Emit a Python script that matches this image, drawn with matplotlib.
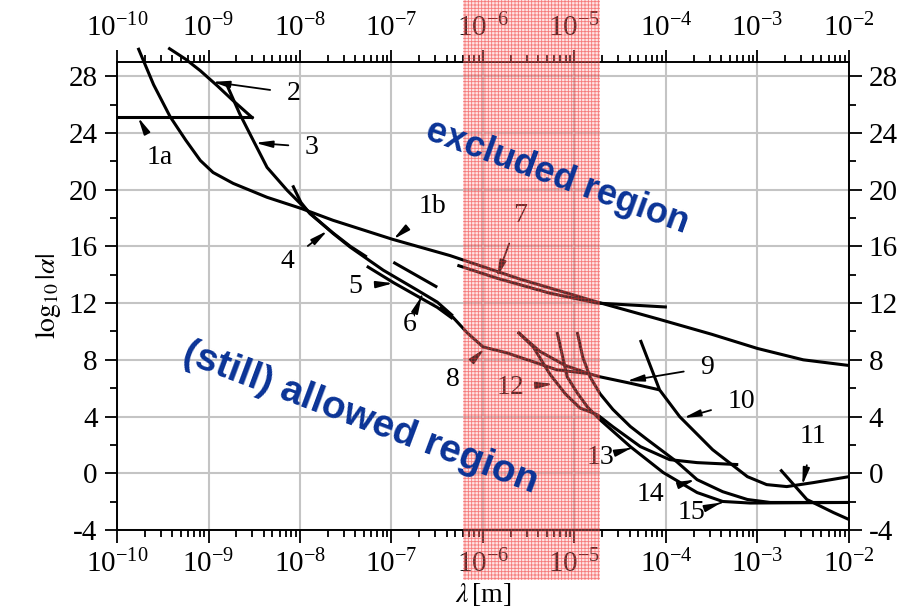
import matplotlib
matplotlib.use("Agg")
import matplotlib.pyplot as plt
import numpy as np
from matplotlib.patches import Rectangle
from matplotlib.transforms import blended_transform_factory
from matplotlib.ticker import MultipleLocator, FixedLocator

plt.rcParams['font.family'] = ['Liberation Serif', 'DejaVu Serif']
plt.rcParams['mathtext.fontset'] = 'stix'
plt.rcParams['axes.unicode_minus'] = False
plt.rcParams['hatch.linewidth'] = 0.6

# constraint curves: log10(lambda [m]) and log10|alpha|
c1a_x = [-10.0, -8.51]
c1a_y = [25.15, 25.15]
c1b_x = [-9.77, -9.60, -9.42, -9.25, -9.09, -8.95, -8.73, -8.36, -7.99, -7.64,
         -6.99, -6.36, -5.60, -4.75, -4.07, -3.50, -3.00, -2.50, -2.00]
c1b_y = [30.0, 27.4, 25.15, 23.5, 22.06, 21.21, 20.44, 19.46, 18.68, 17.84,
         16.5, 15.35, 13.7, 12.07, 10.85, 9.8, 8.8, 8.0, 7.6]
c2_x = [-9.44, -9.25, -9.09, -8.90, -8.73, -8.51]
c2_y = [30.0, 29.2, 28.39, 27.3, 26.27, 25.01]
c3_x = [-8.80, -8.66, -8.51, -8.36, -8.14, -7.89, -7.64, -7.45, -7.09, -6.72, -6.50, -6.33]
c3_y = [27.4, 25.36, 23.46, 21.57, 19.95, 18.33, 16.92, 15.94, 14.32, 12.92, 12.07, 11.1]
c4_x = [-8.08, -7.99, -7.89, -7.64, -7.45, -7.27]
c4_y = [20.3, 19.1, 18.3, 16.95, 16.0, 15.25]
c5_x = [-7.27, -6.98, -6.72, -6.50, -6.33]
c5_y = [14.6, 13.45, 12.5, 11.7, 10.9]
c6_x = [-6.98, -6.50]
c6_y = [14.88, 13.12]
c7_x = [-6.28, -5.85, -5.27, -4.75, -3.99]
c7_y = [14.67, 13.76, 12.7, 12.0, 11.72]
c8_x = [-6.47, -6.33, -6.17, -6.00, -5.74, -5.45, -5.19, -4.94, -4.83]
c8_y = [11.72, 11.01, 9.89, 8.91, 8.49, 7.86, 7.29, 7.1, 7.0]
c9_x = [-4.83, -4.72, -4.39, -4.07]
c9_y = [7.0, 6.8, 6.35, 5.88]
c10_x = [-4.28, -4.07, -3.85, -3.49, -3.11, -2.90, -2.68, -2.39, -2.00]
c10_y = [9.40, 5.88, 3.99, 1.66, -0.24, -0.80, -0.94, -0.66, -0.24]
c11_x = [-2.75, -2.46, -2.17, -2.00]
c11_y = [0.26, -1.85, -2.77, -3.26]
c12_x = [-5.62, -5.45, -5.27, -5.10, -4.94, -4.75]
c12_y = [9.96, 8.9, 7.0, 5.6, 4.6, 4.13]
c12b_x = [-5.62, -5.38, -5.10, -4.83]
c12b_y = [9.96, 8.6, 7.6, 7.0]
c13_x = [-4.75, -4.58, -4.28, -3.96, -3.66, -3.21]
c13_y = [4.13, 3.28, 1.88, 0.96, 0.75, 0.61]
c14_x = [-4.97, -4.91, -4.83, -4.72, -4.58, -4.39, -4.21, -3.88, -3.66, -3.38, -3.11, -2.86, -2.60, -2.00]
c14_y = [9.96, 8.2, 6.8, 5.6, 4.5, 3.3, 2.4, 0.8, -0.45, -1.3, -1.85, -2.06, -2.06, -2.06]
c15_x = [-5.19, -5.08, -4.97, -4.86, -4.72, -4.39, -4.03, -3.66, -3.38, -3.08, -2.00]
c15_y = [9.96, 6.8, 5.67, 4.69, 3.77, 1.88, 0.05, -1.36, -1.99, -2.10, -2.06]

curves = [(c1a_x, c1a_y), (c1b_x, c1b_y), (c2_x, c2_y), (c3_x, c3_y), (c4_x, c4_y),
          (c5_x, c5_y), (c6_x, c6_y), (c7_x, c7_y), (c8_x, c8_y), (c9_x, c9_y),
          (c10_x, c10_y), (c11_x, c11_y), (c12_x, c12_y), (c12b_x, c12b_y),
          (c13_x, c13_y), (c14_x, c14_y), (c15_x, c15_y)]

# curve labels: text, text position, arrow tip (log10 lambda, log10 alpha)
labels = ['1a', '1b', '2', '3', '4', '5', '6', '7', '8', '9', '10', '11', '12', '13', '14', '15']
label_xy = [(-9.53, 22.3), (-6.55, 18.8), (-8.07, 26.8), (-7.87, 23.0), (-8.14, 14.9),
            (-7.40, 13.2), (-6.80, 10.5), (-5.60, 18.2), (-6.33, 6.6), (-3.55, 7.45),
            (-3.18, 5.05), (-2.39, 2.6), (-5.70, 6.05), (-4.72, 1.1), (-4.17, -1.5),
            (-3.72, -2.8)]
label_tip = [(-9.77, 25.1), (-6.98, 16.5), (-8.96, 27.6), (-8.49, 23.3), (-7.70, 17.1),
             (-6.98, 13.4), (-6.67, 12.5), (-5.85, 13.8), (-5.98, 8.8), (-4.43, 6.5),
             (-3.81, 3.9), (-2.51, -0.85), (-5.23, 6.3), (-4.37, 1.8), (-3.68, -0.45),
             (-3.39, -2.06)]

decades = np.arange(-10, -1)
band = (10 ** -6.22, 10 ** -4.72)

fig = plt.figure(figsize=(8.98, 6.11), dpi=100)
ax = fig.add_axes([0.1303, 0.1326, 0.8151, 0.7659])

for xs, ys in curves:
    ax.plot(10.0 ** np.array(xs), ys, color='black', lw=2.2, solid_capstyle='butt',
            zorder=3, clip_on=False)

for lab, (tx, ty), (px, py) in zip(labels, label_xy, label_tip):
    ax.annotate(lab, xy=(10 ** px, py), xytext=(10 ** tx, ty),
                ha='center', va='center', fontsize=20, zorder=4,
                arrowprops=dict(arrowstyle='-|>,head_length=0.5,head_width=0.1',
                                color='black', lw=1.3, shrinkA=10, shrinkB=0))

ax.set_xscale('log')
ax.set_xlim(1e-10, 1e-2)
ax.set_ylim(-4, 29)
ax.xaxis.set_major_locator(FixedLocator(10.0 ** decades))
minor = [m * 10.0 ** d for d in decades[:-1] for m in range(2, 10)]
ax.xaxis.set_minor_locator(FixedLocator(minor))
ax.yaxis.set_major_locator(MultipleLocator(4))
ax.yaxis.set_minor_locator(MultipleLocator(2))
ax.grid(True, which='major', color='#c4c4c4', lw=1.5, zorder=0)
ax.set_axisbelow(True)
ax.tick_params(which='both', direction='out', top=True, right=True,
               labeltop=True, labelright=True, labelsize=21, width=1.3, pad=5)
ax.tick_params(which='major', length=9)
ax.tick_params(which='minor', length=5)
for s in ax.spines.values():
    s.set_linewidth(1.4)

ax.set_ylabel(r'$\mathrm{log}_{10}\,|\alpha|$', fontsize=20, labelpad=4)
ax.set_xlabel(r'$\lambda\,$[m]', fontsize=20, labelpad=2)

# excluded wavelength band, drawn over the whole frame height
trans = blended_transform_factory(ax.transData, fig.transFigure)
ax.add_patch(Rectangle((band[0], 0.05), band[1] - band[0], 0.95, transform=trans,
                       facecolor=(1.0, 0.65, 0.65, 0.3), edgecolor=(0.93, 0.15, 0.15, 0.55),
                       hatch='+++++', lw=0, clip_on=False, zorder=5))

ax.text(10 ** -5.19, 20.86, 'excluded region', fontsize=26, fontweight='bold',
        family='Liberation Sans', color='#0a3396', rotation=-20,
        ha='center', va='center', rotation_mode='anchor', zorder=6)
ax.text(10 ** -7.34, 3.91, '(still) allowed region', fontsize=28, fontweight='bold',
        family='Liberation Sans', color='#0a3396', rotation=-20.5,
        ha='center', va='center', rotation_mode='anchor', zorder=6)

fig.savefig('out.png', dpi=100)
